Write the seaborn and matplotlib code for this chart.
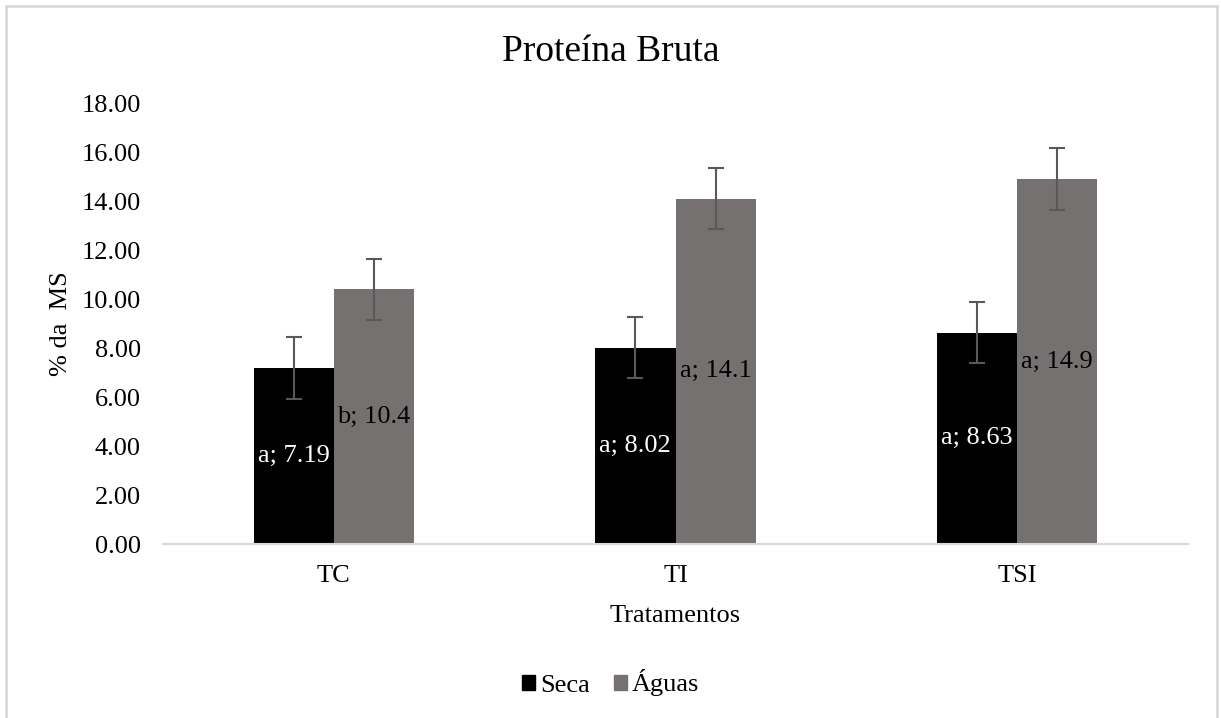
import pandas as pd
import numpy as np
import matplotlib.pyplot as plt
import matplotlib.patches as mpatches
import seaborn as sns

# Proteína Bruta por tratamento e época
tratamentos = ['TC', 'TI', 'TSI']
epocas = ['Seca', 'Águas']
seca = [7.19, 8.02, 8.63]
aguas = [10.4, 14.1, 14.9]
seca_erro = [1.25, 1.25, 1.25]
aguas_erro = [1.25, 1.25, 1.25]
seca_letras = ['a', 'a', 'a']
aguas_letras = ['b', 'a', 'a']

df = pd.DataFrame({
    'Tratamentos': tratamentos * 2,
    'Epoca': [epocas[0]] * 3 + [epocas[1]] * 3,
    'PB': seca + aguas,
})

sns.set_style('white')
plt.rcParams['font.family'] = ['Liberation Serif', 'DejaVu Serif']
plt.rcParams['text.color'] = 'black'
plt.rcParams['axes.labelcolor'] = 'black'
plt.rcParams['xtick.color'] = 'black'
plt.rcParams['ytick.color'] = 'black'

fig = plt.figure(figsize=(12.21, 7.18), dpi=100)
ax = fig.add_axes([0.1335, 0.2423, 0.8395, 0.6142])

cores = {'Seca': '#000000', 'Águas': '#767171'}
sns.barplot(data=df, x='Tratamentos', y='PB', hue='Epoca', hue_order=epocas,
            palette=cores, width=0.47, gap=0, errorbar=None, saturation=1,
            linewidth=0, ax=ax)

# barras de erro e rótulos
conts = ax.containers
for cont, erros, vals, letras, cor_txt in [
        (conts[0], seca_erro, seca, seca_letras, 'white'),
        (conts[1], aguas_erro, aguas, aguas_letras, 'black')]:
    xs = [p.get_x() + p.get_width() / 2 for p in cont.patches]
    hs = [p.get_height() for p in cont.patches]
    ax.errorbar(xs, hs, yerr=erros, fmt='none', ecolor='#595959',
                elinewidth=1.5, capsize=6, capthick=1.5, zorder=3)
    rot = [f'{l}; {v:g}' for l, v in zip(letras, vals)]
    ax.bar_label(cont, labels=rot, label_type='center', color=cor_txt,
                 fontsize=19)

ax.set_xlim(-0.5, 2.5)
ax.set_ylim(0, 18)
ax.set_yticks(np.arange(0, 18.1, 2))
ax.set_yticklabels([f'{t:.2f}' for t in np.arange(0, 18.1, 2)])
ax.tick_params(axis='y', length=0, pad=16, labelsize=19)
ax.tick_params(axis='x', length=0, pad=15, labelsize=19)

for s in ['top', 'right', 'left']:
    ax.spines[s].set_visible(False)
ax.spines['bottom'].set_color('#d9d9d9')
ax.spines['bottom'].set_linewidth(1.5)

ax.set_xlabel('Tratamentos', fontsize=19, labelpad=13)
ax.set_ylabel('% da  MS', fontsize=19, labelpad=7)
fig.text(0.5, 1 - 52 / 718, 'Proteína Bruta', fontsize=27, color='black',
         ha='center', va='center')

handles = [mpatches.Patch(color=cores[e], label=e) for e in epocas]
ax.get_legend().remove()
fig.legend(handles=handles, loc='center', bbox_to_anchor=(0.5, 1 - 683 / 718),
           ncol=2, frameon=False, fontsize=19, handlelength=0.5,
           handleheight=0.5, handletextpad=0.2, columnspacing=0.9)

# moldura cinza do gráfico
fig.patches.append(mpatches.Rectangle((6 / 1221, -0.05), 1211 / 1221, 1.05 - 6 / 718,
                                      transform=fig.transFigure, fill=False,
                                      edgecolor='#d9d9d9', linewidth=2))

plt.savefig('out.png', dpi=100)
